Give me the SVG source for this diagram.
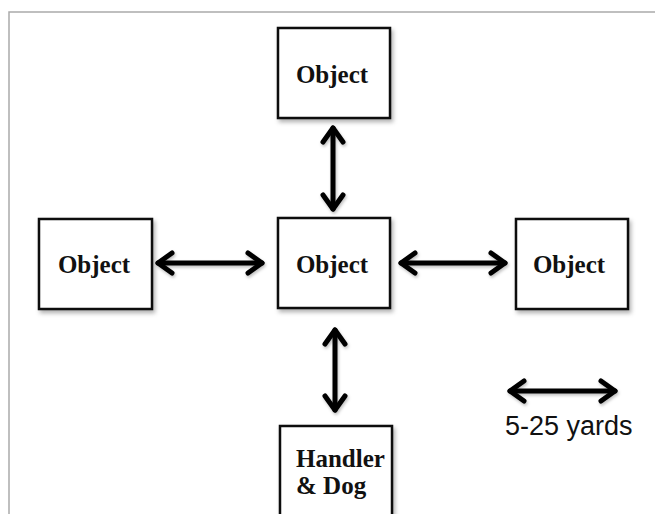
<svg xmlns="http://www.w3.org/2000/svg" width="655" height="514" viewBox="0 0 655 514">
<style>
.box{fill:#fff;stroke:#111;stroke-width:2.5;filter:url(#sh)}
.lbl{font-family:"Liberation Serif","Times New Roman",serif;font-weight:bold;font-size:25px;fill:#111}
.arr{stroke:#000;stroke-width:5;fill:none;stroke-linecap:round;marker-start:url(#chev);marker-end:url(#chev);filter:url(#sh2)}
.leg{font-family:"Liberation Sans",Arial,sans-serif;font-size:27px;fill:#111}
</style>
<defs>
<filter id="sh" x="-20%" y="-20%" width="150%" height="150%">
<feDropShadow dx="2" dy="3" stdDeviation="2" flood-color="#000" flood-opacity="0.3"/>
</filter>
<filter id="sh2" filterUnits="userSpaceOnUse" x="0" y="0" width="655" height="514">
<feDropShadow dx="1" dy="2" stdDeviation="1.5" flood-color="#000" flood-opacity="0.25"/>
</filter>
<marker id="chev" markerUnits="userSpaceOnUse" markerWidth="40" markerHeight="40" viewBox="-20 -20 40 40" refX="0" refY="0" orient="auto-start-reverse" overflow="visible">
<path d="M-14,-10 L0,0 L-14,10" stroke="#000" stroke-width="5" fill="none" stroke-linecap="round" stroke-linejoin="round"/>
</marker>
</defs>
<rect width="655" height="514" fill="#fff"/>
<path d="M9,514 V12 H655" fill="none" stroke="#aaa" stroke-width="1.5"/>
<g id="obj-top"><rect class="box" x="278" y="28" width="112" height="90"/><text class="lbl" x="332" y="83" text-anchor="middle">Object</text></g>
<g id="obj-center"><rect class="box" x="278" y="218" width="112" height="90"/><text class="lbl" x="332" y="273" text-anchor="middle">Object</text></g>
<g id="obj-left"><rect class="box" x="39" y="219" width="113" height="90"/><text class="lbl" x="94" y="273" text-anchor="middle">Object</text></g>
<g id="obj-right"><rect class="box" x="516" y="219" width="112" height="90"/><text class="lbl" x="569" y="273" text-anchor="middle">Object</text></g>
<g id="handler"><rect class="box" x="280" y="426" width="112" height="100"/><text class="lbl" x="296" y="467">Handler</text><text class="lbl" x="296" y="494">&amp; Dog</text></g>
<g id="connectors">
<line class="arr" x1="333" y1="128" x2="333" y2="209"/>
<line class="arr" x1="335" y1="330" x2="335" y2="410"/>
<line class="arr" x1="158" y1="263" x2="262" y2="263"/>
<line class="arr" x1="401" y1="263" x2="505" y2="263"/>
</g>
<g id="legend">
<line class="arr" x1="510" y1="391" x2="615" y2="391"/>
<text class="leg" x="505" y="435">5-25 yards</text>
</g>
</svg>
